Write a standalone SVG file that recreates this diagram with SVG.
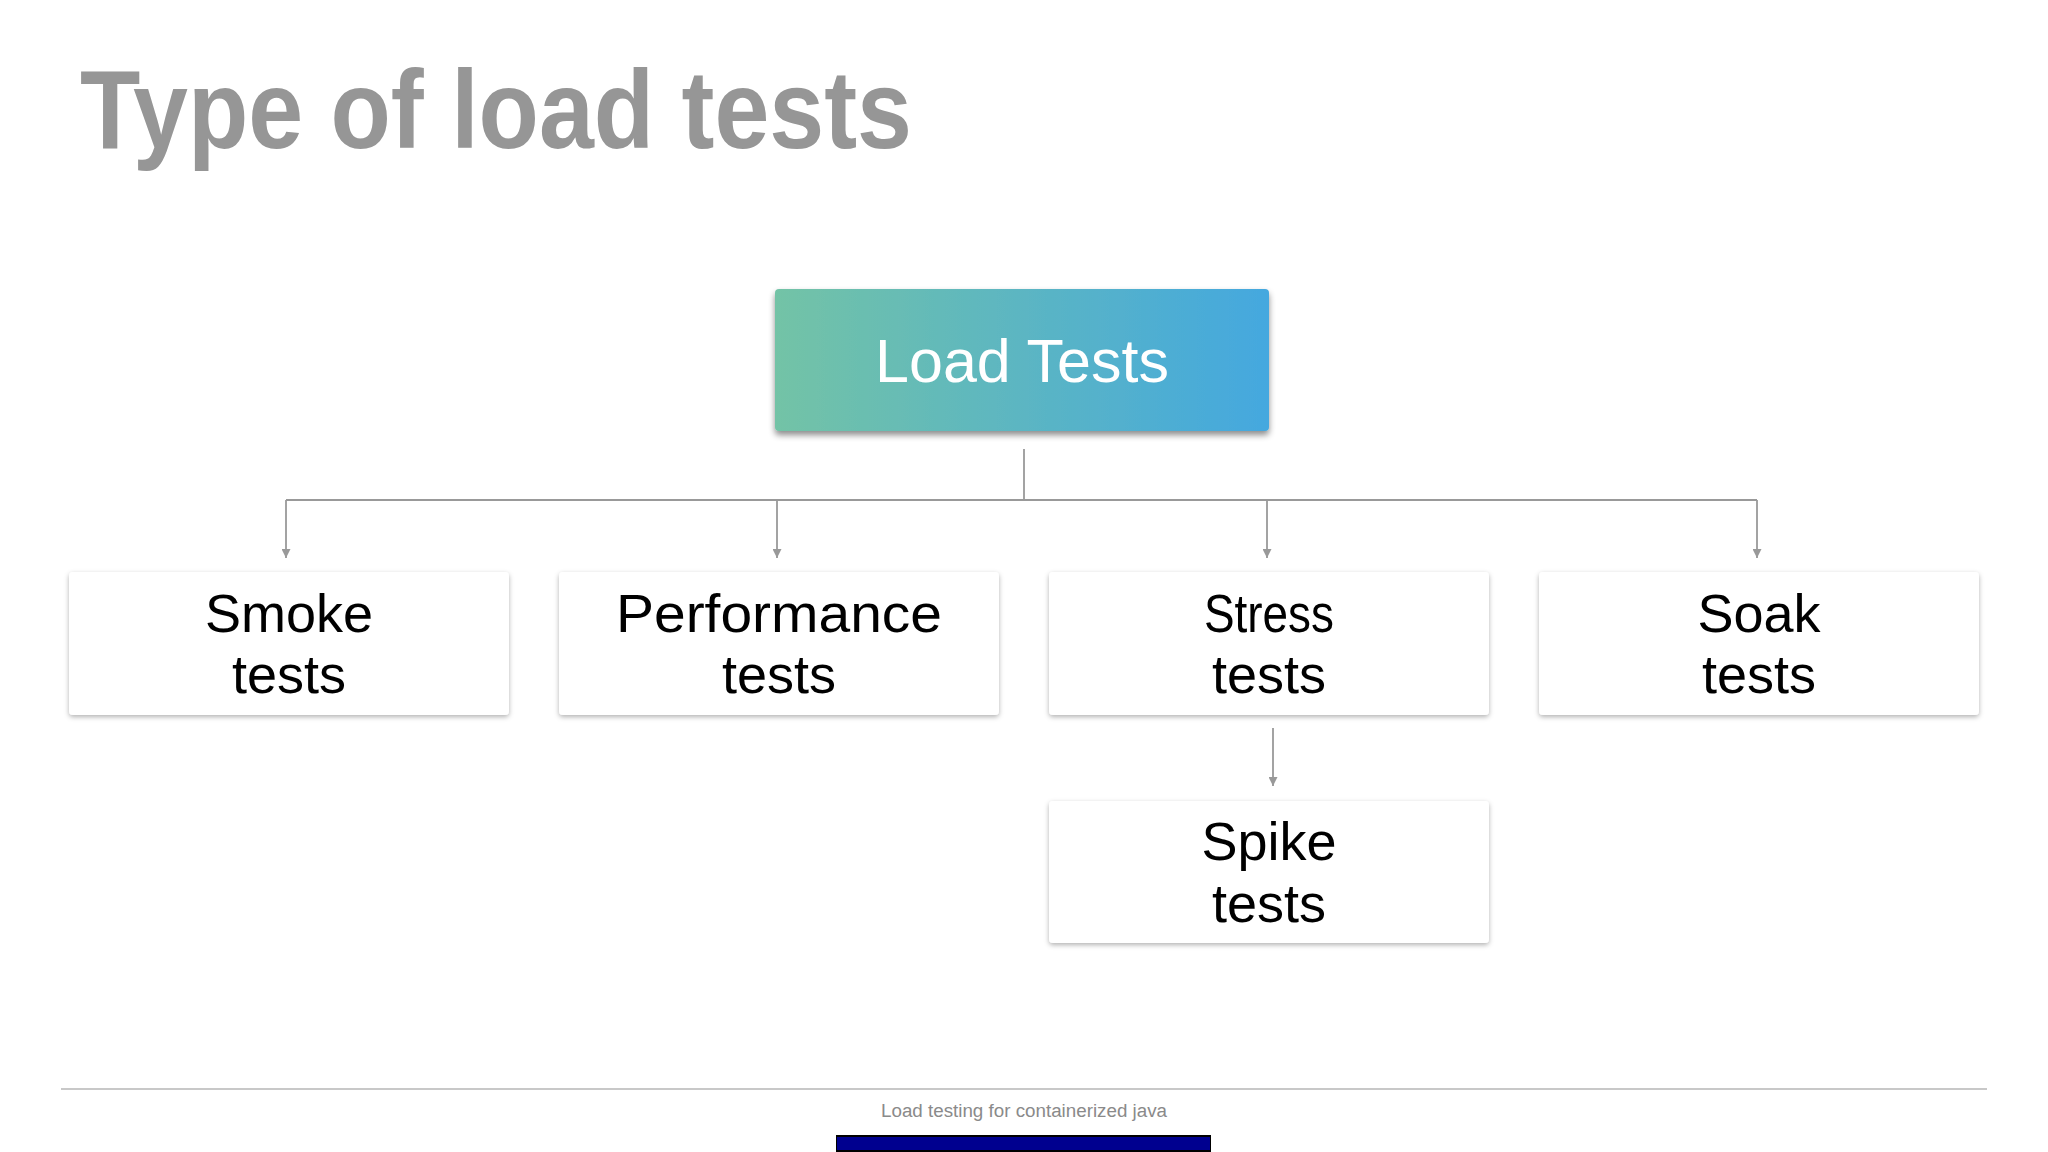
<svg xmlns="http://www.w3.org/2000/svg" width="2048" height="1152" viewBox="0 0 2048 1152">
  <defs>
    <linearGradient id="grad" x1="0" y1="0" x2="1" y2="0">
      <stop offset="0" stop-color="#73c3a6"/>
      <stop offset="1" stop-color="#44a8df"/>
    </linearGradient>
    <filter id="shadowDark" x="-10%" y="-20%" width="120%" height="150%">
      <feDropShadow dx="0" dy="4" stdDeviation="3" flood-color="#000" flood-opacity="0.45"/>
    </filter>
    <filter id="shadowLight" x="-10%" y="-20%" width="120%" height="150%">
      <feDropShadow dx="0" dy="2" stdDeviation="2.5" flood-color="#000" flood-opacity="0.3"/>
    </filter>
    <marker id="arrow" viewBox="0 0 10 10" refX="10" refY="5" markerWidth="5" markerHeight="5" orient="auto" markerUnits="strokeWidth">
      <path d="M0,0 L10,5 L0,10 Z" fill="#999"/>
    </marker>
  </defs>
  <style>
    .title { font-family: "Liberation Sans", Arial, sans-serif; font-weight: bold; font-size: 112px; fill: #969696; }
    .box { fill: #ffffff; filter: url(#shadowLight); }
    .label { font-family: "Liberation Sans", Arial, sans-serif; font-size: 54px; fill: #000; text-anchor: middle; }
    .root-label { font-family: "Liberation Sans", Arial, sans-serif; font-size: 61px; fill: #ffffff; text-anchor: middle; }
    .conn { stroke: #999; stroke-width: 1.8; fill: none; }
    .footer { font-family: "Liberation Sans", Arial, sans-serif; font-size: 18px; fill: #8a8a8a; text-anchor: middle; }
  </style>
  <rect width="2048" height="1152" fill="#ffffff"/>

  <text class="title" x="80" y="148" textLength="832" lengthAdjust="spacingAndGlyphs">Type of load tests</text>

  <g id="connectors">
    <line class="conn" x1="1024" y1="449" x2="1024" y2="500"/>
    <line class="conn" x1="286" y1="500" x2="1757" y2="500"/>
    <line class="conn" x1="286" y1="500" x2="286" y2="558" marker-end="url(#arrow)"/>
    <line class="conn" x1="777" y1="500" x2="777" y2="558" marker-end="url(#arrow)"/>
    <line class="conn" x1="1267" y1="500" x2="1267" y2="558" marker-end="url(#arrow)"/>
    <line class="conn" x1="1757" y1="500" x2="1757" y2="558" marker-end="url(#arrow)"/>
    <line class="conn" x1="1273" y1="728" x2="1273" y2="786" marker-end="url(#arrow)"/>
  </g>

  <g id="node-load-tests">
    <rect x="775" y="289" width="494" height="142" rx="4" fill="url(#grad)" filter="url(#shadowDark)"/>
    <text class="root-label" x="1022" y="382">Load Tests</text>
  </g>

  <g id="node-smoke">
    <rect class="box" x="69" y="572" width="440" height="143" rx="4"/>
    <text class="label" x="289" y="632">Smoke</text>
    <text class="label" x="289" y="693">tests</text>
  </g>

  <g id="node-performance">
    <rect class="box" x="559" y="572" width="440" height="143" rx="4"/>
    <text class="label" x="779" y="632" textLength="326" lengthAdjust="spacingAndGlyphs">Performance</text>
    <text class="label" x="779" y="693">tests</text>
  </g>

  <g id="node-stress">
    <rect class="box" x="1049" y="572" width="440" height="143" rx="4"/>
    <text class="label" x="1269" y="632" textLength="130" lengthAdjust="spacingAndGlyphs">Stress</text>
    <text class="label" x="1269" y="693">tests</text>
  </g>

  <g id="node-soak">
    <rect class="box" x="1539" y="572" width="440" height="143" rx="4"/>
    <text class="label" x="1759" y="632">Soak</text>
    <text class="label" x="1759" y="693">tests</text>
  </g>

  <g id="node-spike">
    <rect class="box" x="1049" y="801" width="440" height="142" rx="4"/>
    <text class="label" x="1269" y="860">Spike</text>
    <text class="label" x="1269" y="922">tests</text>
  </g>

  <line x1="61" y1="1089" x2="1987" y2="1089" stroke="#c8c8c8" stroke-width="2"/>
  <text class="footer" x="1024" y="1117" textLength="286" lengthAdjust="spacingAndGlyphs">Load testing for containerized java</text>
  <rect x="836" y="1135" width="375" height="17" fill="#000000"/>
  <rect x="837" y="1137" width="373" height="13" fill="#00008f"/>
</svg>
